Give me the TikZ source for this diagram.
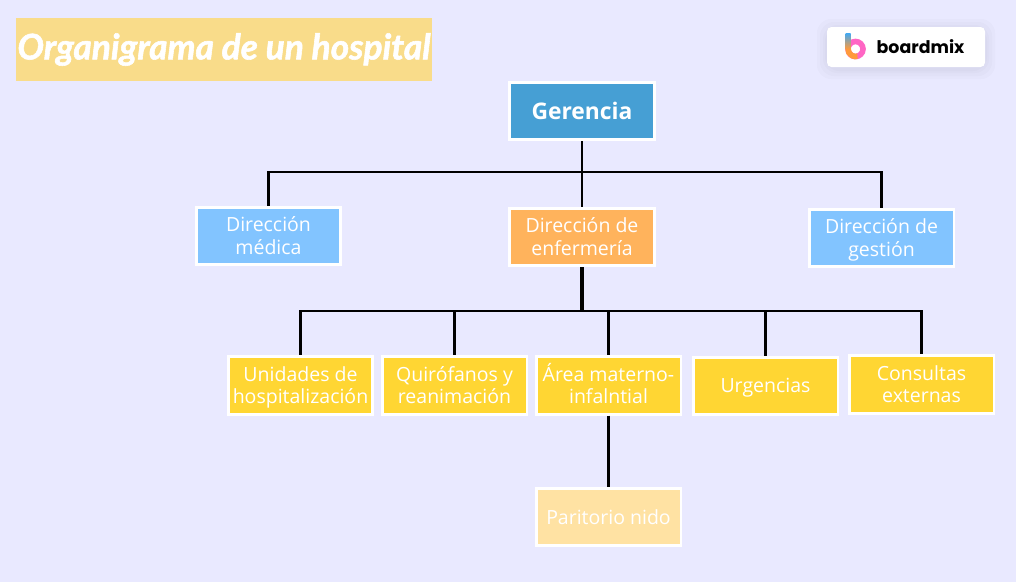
\documentclass[tikz,border=0pt]{standalone}
\usepackage{fontspec}
\setmainfont{Open Sans}
\newfontfamily\titlefont[FakeBold=1.6]{Lato}
\newfontfamily\logofont{Poppins}
\definecolor{bgBlue}{HTML}{E9E9FF}
\definecolor{titleBand}{HTML}{F9DC8A}
\definecolor{topBlue}{HTML}{469FD4}
\definecolor{skyBlue}{HTML}{82C4FF}
\definecolor{softOrange}{HTML}{FFB35C}
\definecolor{unitYellow}{HTML}{FFD633}
\definecolor{paleYellow}{HTML}{FFE2A3}
\definecolor{logoPink}{HTML}{FF66C4}
\definecolor{logoBlue}{HTML}{3FA9F5}
\definecolor{logoOrange}{HTML}{FF9A3C}
\newcommand{\twolines}[2]{\rule{0pt}{11.9pt}#1\\#2\rule[-3.9pt]{0pt}{0pt}}
\tikzset{
    orgbox/.style={draw=white, line width=1.7pt, minimum width=2.9cm, minimum height=1.15cm,
        inner sep=0pt, align=center, text=white, font=\fontsize{11.1}{13}\selectfont},
    conn/.style={black, line width=1.6pt, line join=miter},
}
\begin{document}
\begin{tikzpicture}[x=0.02cm, y=-0.02cm]
    \fill[bgBlue] (0,0) rectangle (1016,582);
    \useasboundingbox (0,0) rectangle (1016,582);

    % Title
    \node[fill=titleBand, minimum width=8.32cm, minimum height=1.26cm, inner sep=0pt] (title) at (224,49.5)
        {\titlefont\fontsize{20.1}{24}\selectfont\bfseries\itshape\color{white} Organigrama de un hospital};

    % Logo
    \foreach \g in {10,7,4,2} \fill[black!50!bgBlue, opacity=0.03, rounded corners=8] (827-\g,27-\g+2) rectangle (985+\g,67+\g+2);
    \node[fill=white, rounded corners=2.5pt, minimum width=3.16cm, minimum height=0.8cm, inner sep=0pt] (logo) at (906,47) {};
    \draw[line width=3.2pt, logoPink] (855.5,49) circle (7.5);
    \draw[line width=3.2pt, logoOrange] (848,49) arc (180:75:7.5);
    \shade[top color=logoBlue, bottom color=logoOrange] (845.5,33) rectangle (850.5,49);
    \node[font=\logofont\bfseries\fontsize{9.9}{11}\selectfont, text=black] (logotext) at (920.5,47) {boardmix};

    % Level 1
    \node[orgbox, fill=topBlue, font=\fontsize{13}{15}\selectfont\bfseries] (gerencia) at (582,111) {Gerencia};

    % Level 2
    \node[orgbox, fill=skyBlue] (medica) at (268.5,236) {\twolines{Dirección}{médica}};
    \node[orgbox, fill=softOrange] (enfermeria) at (582,237) {\twolines{Dirección de}{enfermería}};
    \node[orgbox, fill=skyBlue] (gestion) at (881.5,238) {\twolines{Dirección de}{gestión}};

    % Level 3
    \node[orgbox, fill=unitYellow] (unidades) at (300.5,385.5) {\twolines{Unidades de}{hospitalización}};
    \node[orgbox, fill=unitYellow] (quirofanos) at (454.5,385.5) {\twolines{Quirófanos y}{reanimación}};
    \node[orgbox, fill=unitYellow] (materno) at (608.5,385.5) {\twolines{Área materno-}{infalntial}};
    \node[orgbox, fill=unitYellow] (urgencias) at (765.5,386) {\rule{0pt}{10pt}Urgencias};
    \node[orgbox, fill=unitYellow] (consultas) at (921.5,384.5) {\twolines{Consultas}{externas}};

    % Level 4
    \node[orgbox, fill=paleYellow] (paritorio) at (608.5,517) {Paritorio nido};

    % Connectors
    \coordinate (busA) at (582,172);
    \coordinate (busB) at (582,311);
    \draw[conn] (gerencia.south) -- (enfermeria.north);
    \foreach \p in {medica,gestion} \draw[conn] (busA) -| (\p.north);
    \draw[conn, line width=2pt] (enfermeria.south) -- (busB);
    \foreach \p in {unidades,quirofanos,materno,urgencias,consultas} \draw[conn] (busB) -| (\p.north);
    \draw[conn] (materno.south) -- (paritorio.north);
\end{tikzpicture}
\end{document}
